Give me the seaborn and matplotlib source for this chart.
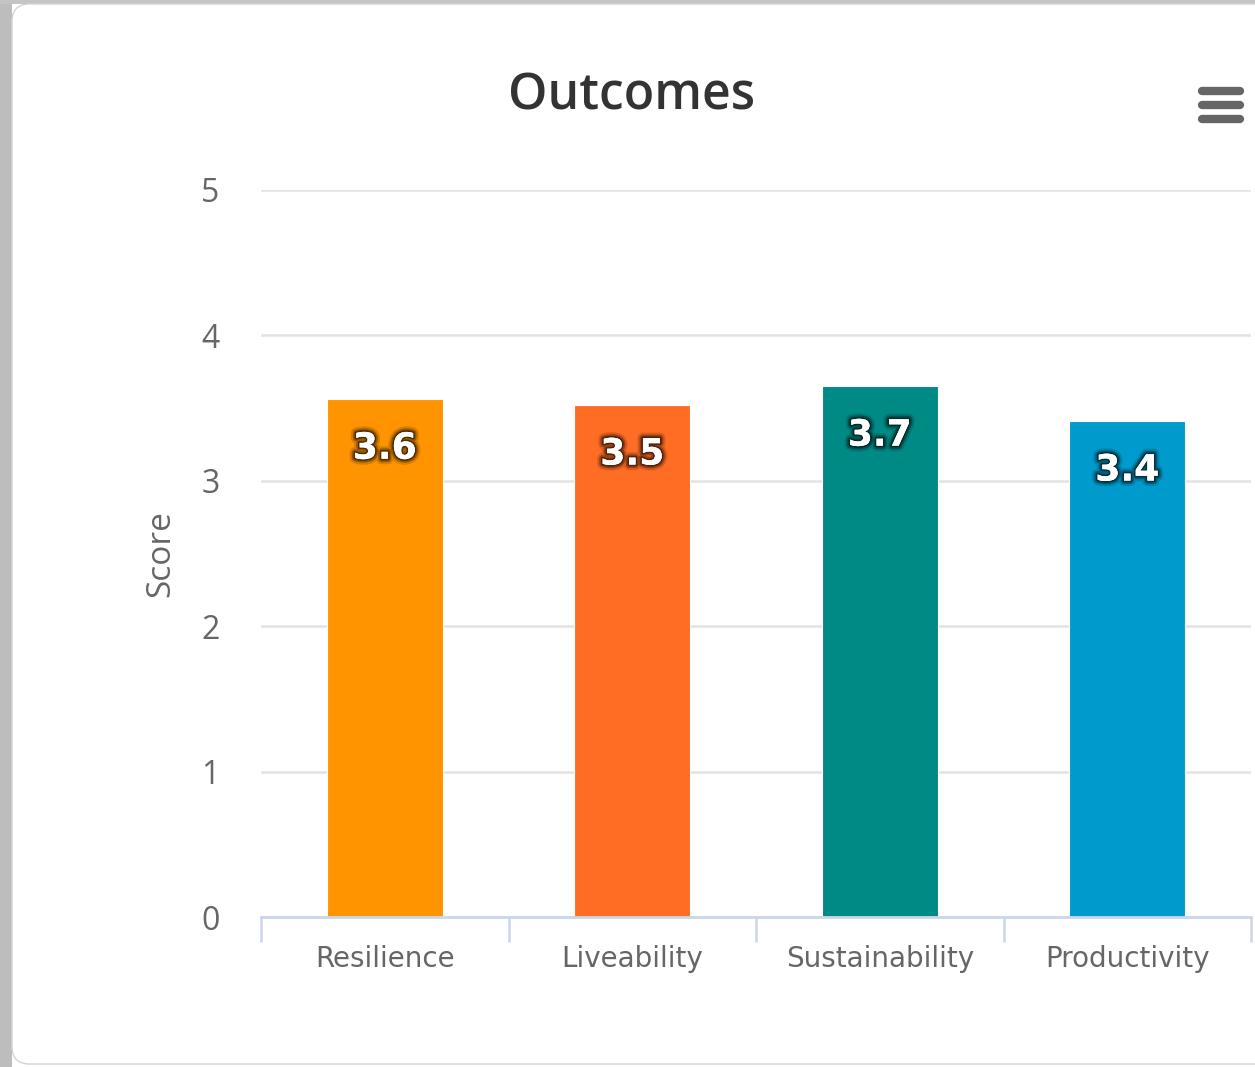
import matplotlib
matplotlib.use("Agg")
import matplotlib.pyplot as plt
import matplotlib.patheffects as pe
from matplotlib.patches import FancyBboxPatch, Rectangle
from matplotlib.lines import Line2D
import seaborn as sns
import pandas as pd

categories = ["Resilience", "Liveability", "Sustainability", "Productivity"]
scores = [3.56, 3.52, 3.65, 3.41]
score_labels = ["3.6", "3.5", "3.7", "3.4"]
bar_colors = ["#FF9300", "#FF6C24", "#008A85", "#009BCD"]
y_ticks = [0, 1, 2, 3, 4, 5]

W, H = 1255, 1067
sns.set_theme(style="white")
plt.rcParams["font.family"] = ["DejaVu Sans"]

fig = plt.figure(figsize=(W / 100, H / 100), dpi=100)
fig.patch.set_facecolor("white")

def fx(x):
    return x / W

def fy(y):
    return 1 - y / H

# card background / shadow
fig.patches.append(Rectangle((0, 0), fx(12), 1, transform=fig.transFigure,
                             facecolor="#bdbdbd", edgecolor="none", zorder=-10))
fig.patches.append(Rectangle((0, fy(4)), 1, fy(0) - fy(4), transform=fig.transFigure,
                             facecolor="#c4c4c4", edgecolor="none", zorder=-10))
fig.patches.append(FancyBboxPatch((fx(12), fy(1064)), fx(1400) - fx(12), fy(4) - fy(1064),
                                  boxstyle="round,pad=0,rounding_size=0.014",
                                  transform=fig.transFigure, facecolor="white",
                                  edgecolor="#d4d4d4", linewidth=1.0, zorder=-9,
                                  mutation_aspect=W / H))

left, right = fx(261), fx(1251)
bottom, top = fy(917), fy(190)
ax = fig.add_axes([left, bottom, right - left, top - bottom])
ax.set_facecolor("none")
ax.set_zorder(1)

df = pd.DataFrame({"category": categories, "score": scores})
sns.barplot(data=df, x="category", y="score", hue="category", palette=bar_colors,
            legend=False, width=0.47, saturation=1, ax=ax,
            edgecolor="white", linewidth=0.8, zorder=3)

ax.set_xlim(-0.5, len(categories) - 0.5)
ax.set_ylim(0, 5)
ax.set_yticks(y_ticks)
ax.set_yticklabels([str(t) for t in y_ticks], fontsize=23, color="#666666",
                   family=["Open Sans", "DejaVu Sans"])
ax.yaxis.grid(True, color="#e3e3e3", linewidth=1.8)
ax.set_axisbelow(True)
ax.tick_params(axis="y", length=0, pad=30)

ax.set_xticks(range(len(categories)))
ax.set_xticklabels(categories, fontsize=20, color="#666666")
ax.set_xticks([i - 0.5 for i in range(len(categories) + 1)], minor=True)
ax.tick_params(axis="x", which="major", bottom=True, length=0, pad=20)
ax.tick_params(axis="x", which="minor", bottom=True, length=18, width=1.8,
               color="#ccd6eb", direction="out")

for s in ["left", "top", "right"]:
    ax.spines[s].set_visible(False)
ax.spines["bottom"].set_color("#ccd6eb")
ax.spines["bottom"].set_linewidth(2)
ax.spines["bottom"].set_zorder(4)

ax.set_xlabel("")
ax.set_ylabel("Score", fontsize=24, color="#666666", family=["Open Sans", "DejaVu Sans"])
ax.yaxis.set_label_coords(-0.085, 0.5)

for patch, lbl in zip(ax.patches, score_labels):
    cx = patch.get_x() + patch.get_width() / 2
    h = patch.get_height()
    ax.annotate(lbl, (cx, h), xytext=(0, -35.5), textcoords="offset points",
                ha="center", va="center", fontsize=26, fontweight="bold",
                color="white", zorder=5,
                path_effects=[pe.withStroke(linewidth=8, foreground="black", alpha=0.15),
                              pe.withStroke(linewidth=5, foreground="black", alpha=0.3),
                              pe.withStroke(linewidth=2.5, foreground="black", alpha=0.45),
                              pe.Normal()])

fig.text(fx(632), fy(97), "Outcomes", ha="center", va="center", fontsize=36,
         fontweight="semibold", color="#333333", family=["Open Sans", "DejaVu Sans"])

for yy in [91, 105, 118.5]:
    fig.lines.append(Line2D([fx(1202), fx(1240)], [fy(yy), fy(yy)],
                            transform=fig.transFigure, color="#666666",
                            linewidth=6, solid_capstyle="round", zorder=5))

fig.savefig("out.png", dpi=100, facecolor=fig.get_facecolor())
